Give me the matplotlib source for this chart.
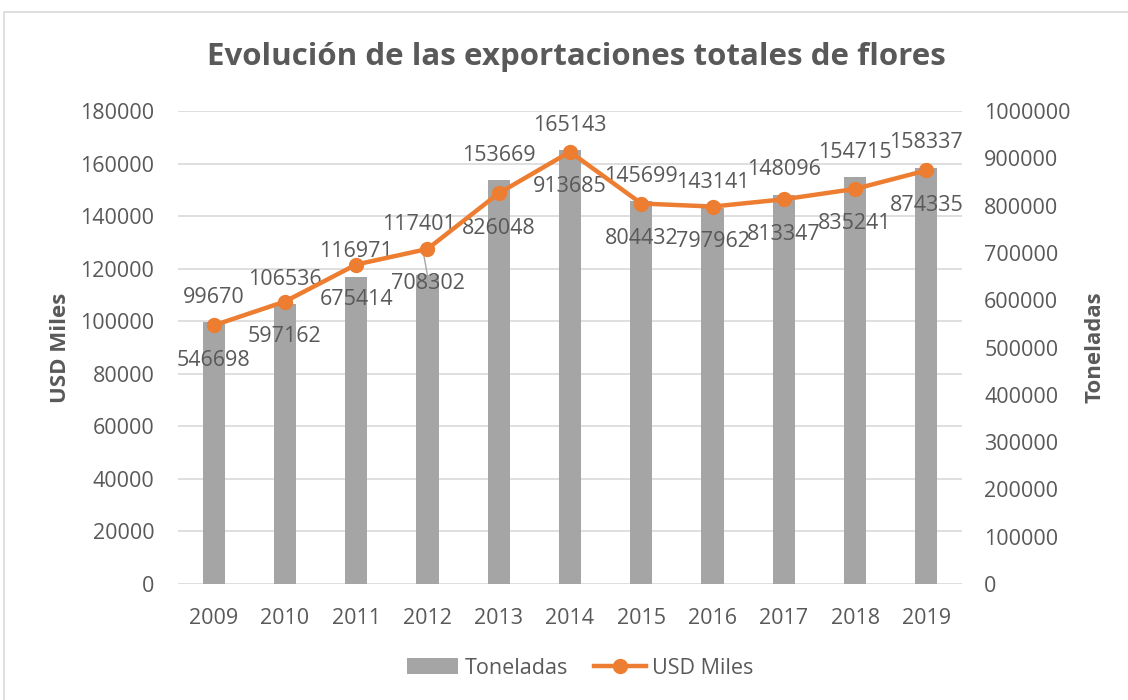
import matplotlib
matplotlib.use("Agg")
import matplotlib.pyplot as plt
from matplotlib.patches import Rectangle
from matplotlib.ticker import FuncFormatter

years = ["2009", "2010", "2011", "2012", "2013", "2014", "2015", "2016", "2017", "2018", "2019"]
toneladas = [99670, 106536, 116971, 117401, 153669, 165143, 145699, 143141, 148096, 154715, 158337]
usd_miles = [546698, 597162, 675414, 708302, 826048, 913685, 804432, 797962, 813347, 835241, 874335]

plt.rcParams['font.family'] = ['Open Sans', 'DejaVu Sans']
TXT = '#595959'
GRAY = '#A5A5A5'
ORANGE = '#ED7D31'
GRID = '#D9D9D9'
FS = 15.5

fig = plt.figure(figsize=(11.28, 7.0), dpi=100)
ax = fig.add_axes([178/1128, 1-584/700, (962-178)/1128, (584-111)/700])
ax2 = ax.twinx()

x = list(range(len(years)))
bars = ax.bar(x, toneladas, width=0.31, color=GRAY, zorder=2, label='Toneladas')
line, = ax2.plot(x, usd_miles, color=ORANGE, lw=3.2, marker='o', ms=10, zorder=3, label='USD Miles')

ax.set_xlim(-0.5, len(years) - 0.5)
ax.set_ylim(0, 180000)
ax.set_yticks(range(0, 180001, 20000))
ax2.set_ylim(0, 1000000)
ax2.set_yticks(range(0, 1000001, 100000))
ax2.yaxis.set_major_formatter(FuncFormatter(lambda v, p: f"{int(v)}"))
ax.yaxis.set_major_formatter(FuncFormatter(lambda v, p: f"{int(v)}"))
ax.set_xticks(x)
ax.set_xticklabels(years)

ax.grid(axis='y', color=GRID, lw=1.2, zorder=0)
ax.set_axisbelow(True)
for a in (ax, ax2):
    for s in a.spines.values():
        s.set_visible(False)
    a.tick_params(length=0, labelsize=FS, colors=TXT)
ax.tick_params(axis='y', pad=17)
ax2.tick_params(axis='y', pad=16)
ax.tick_params(axis='x', pad=17)

ax.set_ylabel('USD Miles', fontsize=16, fontweight='bold', color=TXT, labelpad=7)
ax2.set_ylabel('Toneladas', fontsize=16, fontweight='bold', color=TXT, labelpad=10)

# data labels
for i, v in enumerate(toneladas):
    if i == 3:
        ax2.annotate(str(v), xy=(i, v / 180000 * 1000000), xytext=(-6.5, 36.5), textcoords='offset points',
                     ha='center', va='center', fontsize=FS, color=TXT, zorder=1,
                     arrowprops=dict(arrowstyle='-', color='#A6A6A6', lw=1, shrinkA=7, shrinkB=0))
    else:
        ax.annotate(str(v), xy=(i, v), xytext=(0, 18), textcoords='offset points',
                    ha='center', va='center', fontsize=FS, color=TXT)
for i, v in enumerate(usd_miles):
    ax2.annotate(str(v), xy=(i, v), xytext=(0, -25), textcoords='offset points',
                 ha='center', va='center', fontsize=FS, color=TXT, zorder=1)

fig.text(576/1128, 1-57/700, 'Evolución de las exportaciones totales de flores', ha='center', va='center',
         fontsize=22.5, fontweight='bold', color=TXT)

fig.legend(handles=[bars, line], labels=['Toneladas', 'USD Miles'], loc='center',
           bbox_to_anchor=(580/1128, 1-668/700), ncol=2, frameon=False, fontsize=FS,
           labelcolor=TXT, handlelength=2.4, columnspacing=1.2, handletextpad=0.3)

fig.patches.append(Rectangle((4/1128, -0.01), 1.02, 1-12/700+0.01, transform=fig.transFigure,
                             fill=False, edgecolor='#D9D9D9', lw=1.2))

fig.savefig('out.png', dpi=100, facecolor='white')
